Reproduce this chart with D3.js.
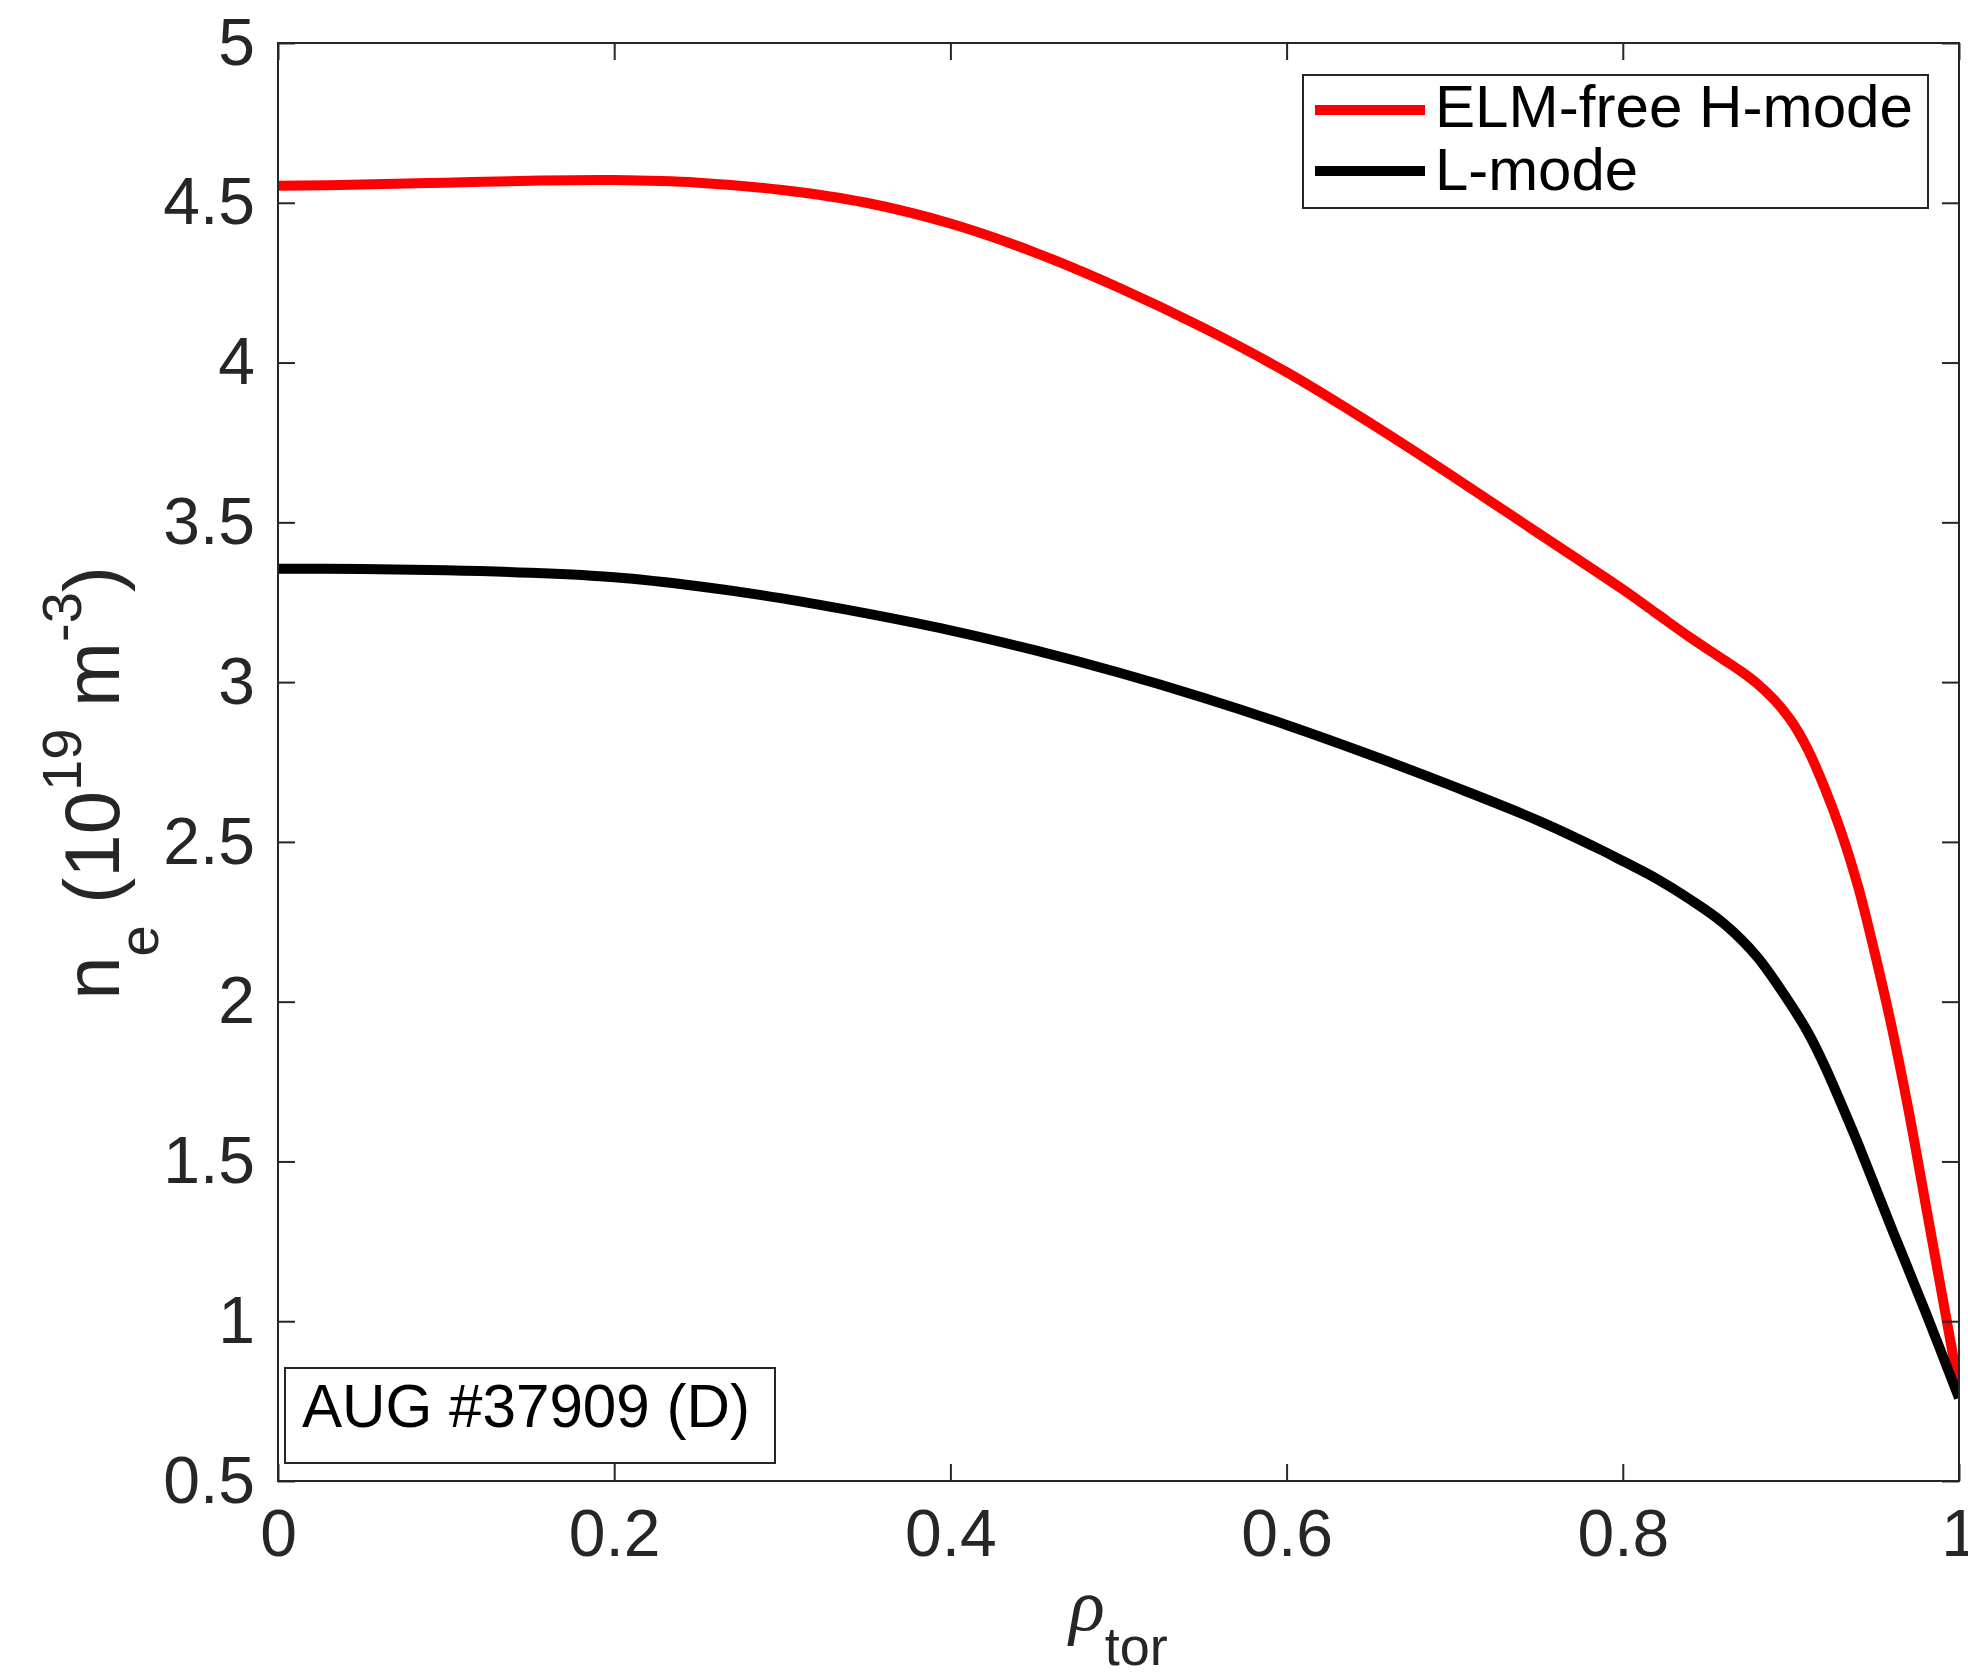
<!DOCTYPE html>
<html>
<head>
<meta charset="utf-8">
<script src="https://cdn.jsdelivr.net/npm/d3@7"></script>
<style>
  html, body { margin: 0; padding: 0; background: #ffffff; }
  svg { display: block; }
</style>
</head>
<body>
<svg id="chart" width="1968" height="1675"></svg>
<script>
// Electron density profiles vs normalised toroidal radius
const rhoH = [0, 0.05, 0.1, 0.15, 0.2, 0.25, 0.3, 0.35, 0.4, 0.45, 0.5, 0.55, 0.6, 0.65, 0.7, 0.75, 0.8, 0.82, 0.84, 0.86, 0.87, 0.88, 0.89, 0.9, 0.91, 0.92, 0.93, 0.94, 0.95, 0.96, 0.97, 0.98, 0.99, 1.0];
const neH  = [4.553, 4.557, 4.563, 4.569, 4.571, 4.563, 4.54, 4.50, 4.435, 4.345, 4.235, 4.11, 3.97, 3.81, 3.64, 3.465, 3.29, 3.215, 3.14, 3.07, 3.035, 2.995, 2.945, 2.88, 2.79, 2.67, 2.53, 2.36, 2.15, 1.92, 1.66, 1.37, 1.08, 0.79];

const rhoL = [0, 0.05, 0.1, 0.15, 0.2, 0.25, 0.3, 0.35, 0.4, 0.45, 0.5, 0.55, 0.6, 0.65, 0.7, 0.75, 0.787, 0.8, 0.82, 0.84, 0.86, 0.88, 0.9, 0.91, 0.92, 0.93, 0.94, 0.96, 0.98, 1.0];
const neL  = [3.355, 3.354, 3.35, 3.342, 3.328, 3.30, 3.262, 3.215, 3.162, 3.10, 3.03, 2.952, 2.866, 2.772, 2.672, 2.566, 2.475, 2.44, 2.385, 2.32, 2.245, 2.14, 1.99, 1.905, 1.80, 1.68, 1.555, 1.29, 1.03, 0.76];

const seriesNames  = ["ELM-free H-mode", "L-mode"];
const seriesColors = ["#ff0000", "#000000"];

const xTicks = [0, 0.2, 0.4, 0.6, 0.8, 1];
const xTickLabels = ["0", "0.2", "0.4", "0.6", "0.8", "1"];
const yTicks = [0.5, 1, 1.5, 2, 2.5, 3, 3.5, 4, 4.5, 5];
const yTickLabels = ["0.5", "1", "1.5", "2", "2.5", "3", "3.5", "4", "4.5", "5"];

const annotation = "AUG #37909 (D)";

const svg = d3.select("#chart");
const m = { left: 278, top: 43, right: 1959, bottom: 1481 };
const axisColor = "#262626";
const font = "'Liberation Sans', Arial, Helvetica, sans-serif";

const x = d3.scaleLinear().domain([0, 1]).range([m.left, m.right]);
const y = d3.scaleLinear().domain([0.5, 5]).range([m.bottom, m.top]);

svg.append("rect").attr("width", 1968).attr("height", 1675).attr("fill", "#fff");

// clip to axes box
svg.append("defs").append("clipPath").attr("id", "plotClip")
  .append("rect").attr("x", m.left).attr("y", m.top)
  .attr("width", m.right - m.left).attr("height", m.bottom - m.top);

// curves
const line = d3.line().x(d => x(d[0])).y(d => y(d[1])).curve(d3.curveCatmullRom.alpha(0.5));
const series = [d3.zip(rhoH, neH), d3.zip(rhoL, neL)];
svg.append("g").attr("clip-path", "url(#plotClip)")
  .selectAll("path").data(series).join("path")
  .attr("d", line)
  .attr("fill", "none")
  .attr("stroke", (d, i) => seriesColors[i])
  .attr("stroke-width", 10)
  .attr("stroke-linejoin", "round");

// axes: ticks pointing inward on all four sides
function styleAxis(g) {
  g.selectAll(".tick line").attr("stroke", axisColor).attr("stroke-width", 2);
  g.selectAll(".tick text").attr("fill", axisColor)
    .attr("font-family", font).attr("font-size", 66);
  g.select(".domain").remove();
}
svg.append("g").attr("transform", `translate(${m.left},0)`)
  .call(d3.axisLeft(y).tickValues(yTicks).tickFormat((d, i) => yTickLabels[i])
    .tickSize(-17).tickPadding(23))
  .call(styleAxis);
svg.append("g").attr("transform", `translate(${m.right},0)`)
  .call(d3.axisRight(y).tickValues(yTicks).tickFormat("").tickSize(-17))
  .call(styleAxis);
svg.append("g").attr("transform", `translate(0,${m.bottom})`)
  .call(d3.axisBottom(x).tickValues(xTicks).tickFormat((d, i) => xTickLabels[i])
    .tickSize(-17).tickPadding(28))
  .call(styleAxis);
svg.append("g").attr("transform", `translate(0,${m.top})`)
  .call(d3.axisTop(x).tickValues(xTicks).tickFormat("").tickSize(-17))
  .call(styleAxis);

// axes box
svg.append("rect")
  .attr("x", m.left).attr("y", m.top)
  .attr("width", m.right - m.left).attr("height", m.bottom - m.top)
  .attr("fill", "none").attr("stroke", axisColor).attr("stroke-width", 2);

// y label: n_e (10^19 m^-3)
const yl = svg.append("text")
  .attr("transform", "translate(119,783) rotate(-90)")
  .attr("text-anchor", "middle")
  .attr("font-family", font).attr("font-size", 78).attr("fill", axisColor);
yl.append("tspan").text("n");
yl.append("tspan").attr("font-size", 56).attr("dy", 39).text("e");
yl.append("tspan").attr("dy", -39).text(" (10");
yl.append("tspan").attr("font-size", 56).attr("dy", -38).text("19");
yl.append("tspan").attr("dy", 38).text(" m");
yl.append("tspan").attr("font-size", 56).attr("dy", -38).text("-3");
yl.append("tspan").attr("dy", 38).text(")");

// x label: rho_tor
const xl = svg.append("text")
  .attr("x", (m.left + m.right) / 2).attr("y", 1630)
  .attr("text-anchor", "middle")
  .attr("font-size", 74).attr("fill", axisColor);
xl.append("tspan").attr("font-family", "'Liberation Serif', 'Times New Roman', serif")
  .attr("font-style", "italic").text("ρ");
xl.append("tspan").attr("font-family", font).attr("font-size", 54).attr("dy", 35).text("tor");

// legend
const lg = svg.append("g");
lg.append("rect").attr("x", 1303).attr("y", 75).attr("width", 625).attr("height", 133)
  .attr("fill", "#fff").attr("stroke", axisColor).attr("stroke-width", 2);
const legendRows = [{ ly: 110, by: 127, w: 478 }, { ly: 171, by: 190, w: 203 }];
legendRows.forEach((r, i) => {
  lg.append("line").attr("x1", 1315).attr("x2", 1425).attr("y1", r.ly).attr("y2", r.ly)
    .attr("stroke", seriesColors[i]).attr("stroke-width", 10);
  lg.append("text").attr("x", 1435).attr("y", r.by)
    .attr("font-family", font).attr("font-size", 59)
    .attr("fill", "#000")
    .attr("textLength", r.w).attr("lengthAdjust", "spacingAndGlyphs")
    .text(seriesNames[i]);
});

// annotation box
const ab = svg.append("g");
ab.append("rect").attr("x", 285).attr("y", 1368).attr("width", 490).attr("height", 95)
  .attr("fill", "#fff").attr("stroke", axisColor).attr("stroke-width", 2);
ab.append("text").attr("x", 302).attr("y", 1427)
  .attr("font-family", font).attr("font-size", 61).attr("fill", "#000")
  .attr("textLength", 448).attr("lengthAdjust", "spacingAndGlyphs")
  .text(annotation);
</script>
</body>
</html>
